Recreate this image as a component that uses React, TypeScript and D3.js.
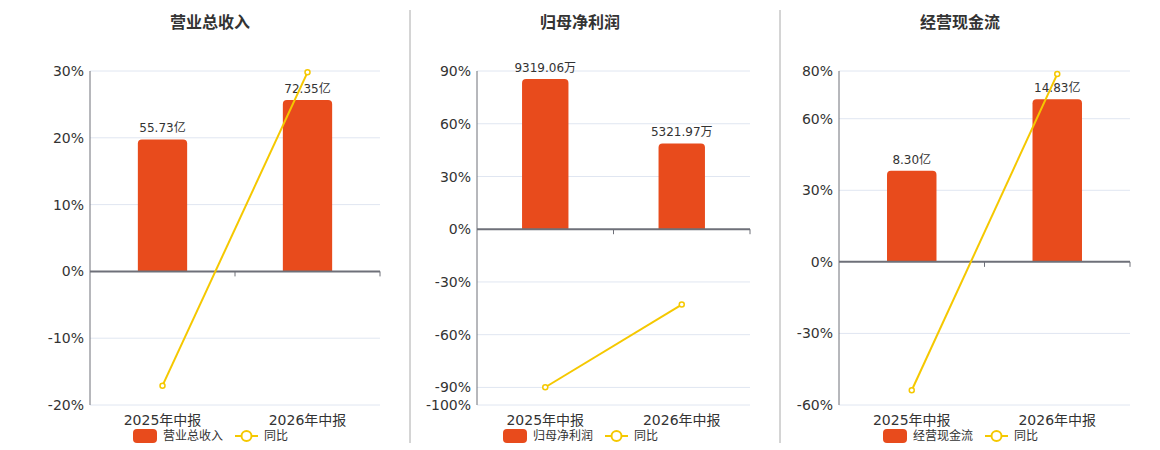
import React, { useEffect, useRef } from 'react';
import * as d3 from 'd3';

const periods = ['2025年中报', '2026年中报'];

const revenueValues = [55.73, 72.35];
const revenueLabels = ['55.73亿', '72.35亿'];
const revenueYoy = [-17.1, 29.8];
const revenueTicks = [-20, -10, 0, 10, 20, 30];

const profitValues = [9319.06, 5321.97];
const profitLabels = ['9319.06万', '5321.97万'];
const profitYoy = [-89.9, -42.9];
const profitTicks = [-100, -90, -60, -30, 0, 30, 60, 90];

const cashValues = [8.3, 14.83];
const cashLabels = ['8.30亿', '14.83亿'];
const cashYoy = [-53.8, 78.7];
const cashTicks = [-60, -30, 0, 30, 60, 80];

const BAR = '#E84B1C';
const LINE = '#F5C800';
const FONT = '"DejaVu Sans", "Noto Sans CJK SC", sans-serif';

interface Panel {
  title: string;
  legend: string;
  values: number[];
  labels: string[];
  yoy: number[];
  ticks: number[];
  barMax: number;
  x0: number;
  x1: number;
  center: number;
}

const panels: Panel[] = [
  { title: '营业总收入', legend: '营业总收入', values: revenueValues, labels: revenueLabels, yoy: revenueYoy, ticks: revenueTicks, barMax: 84.6, x0: 90, x1: 380, center: 210 },
  { title: '归母净利润', legend: '归母净利润', values: profitValues, labels: profitLabels, yoy: profitYoy, ticks: profitTicks, barMax: 9816, x0: 477, x1: 750, center: 580 },
  { title: '经营现金流', legend: '经营现金流', values: cashValues, labels: cashLabels, yoy: cashYoy, ticks: cashTicks, barMax: 17.4, x0: 839, x1: 1130, center: 960 },
];

const TOP = 71;
const BOTTOM = 405;

// bar path with rounded top corners
function barPath(x: number, y: number, w: number, h: number, r: number) {
  const rr = Math.min(r, h, w / 2);
  return `M${x},${y + h}V${y + rr}Q${x},${y} ${x + rr},${y}H${x + w - rr}Q${x + w},${y} ${x + w},${y + rr}V${y + h}Z`;
}

const App: React.FC = () => {
  const ref = useRef<SVGSVGElement>(null);

  useEffect(() => {
    document.body.style.margin = '0';
    if (!ref.current) return;
    const svg = d3.select(ref.current);
    svg.selectAll('*').remove();
    svg.style('font-family', FONT);

    // separators
    [410, 780].forEach(x => {
      svg.append('line').attr('x1', x).attr('x2', x).attr('y1', 10).attr('y2', 443)
        .attr('stroke', '#aaa').attr('stroke-width', 1);
    });

    panels.forEach(p => {
      const g = svg.append('g');
      const min = d3.min(p.ticks) as number;
      const max = d3.max(p.ticks) as number;
      const y = d3.scaleLinear().domain([min, max]).range([BOTTOM, TOP]);
      const x = d3.scaleBand().domain(periods).range([p.x0, p.x1]);
      const zeroY = y(0);
      const yBar = d3.scaleLinear().domain([0, p.barMax]).range([zeroY, TOP]);

      g.append('text').attr('x', p.center).attr('y', 28).attr('text-anchor', 'middle')
        .attr('font-size', 16).attr('font-weight', 'bold').attr('fill', '#333').text(p.title);

      // grid + y labels
      p.ticks.forEach(t => {
        if (t !== 0) {
          g.append('line').attr('x1', p.x0).attr('x2', p.x1).attr('y1', y(t)).attr('y2', y(t))
            .attr('stroke', '#E0E6F1').attr('stroke-width', 1);
        }
        g.append('text').attr('x', p.x0 - 6).attr('y', y(t)).attr('dy', '0.36em')
          .attr('text-anchor', 'end').attr('font-size', 14).attr('fill', '#333').text(`${t}%`);
      });

      g.append('line').attr('x1', p.x0).attr('x2', p.x0).attr('y1', TOP).attr('y2', BOTTOM)
        .attr('stroke', '#6E7079').attr('stroke-width', 1);

      // bars
      const bw = x.bandwidth() * 0.34;
      periods.forEach((c, i) => {
        const cx = (x(c) as number) + x.bandwidth() / 2;
        const top = yBar(p.values[i]);
        g.append('path').attr('d', barPath(cx - bw / 2, top, bw, zeroY - top, 4)).attr('fill', BAR);
        g.append('text').attr('x', cx).attr('y', top - 7).attr('text-anchor', 'middle')
          .attr('font-size', 12).attr('fill', '#333').text(p.labels[i]);
        g.append('text').attr('x', cx).attr('y', 425).attr('text-anchor', 'middle')
          .attr('font-size', 14).attr('fill', '#333').text(c);
      });

      // zero axis
      g.append('line').attr('x1', p.x0).attr('x2', p.x1).attr('y1', zeroY).attr('y2', zeroY)
        .attr('stroke', '#6E7079').attr('stroke-width', 2);
      [p.x0 + x.bandwidth(), p.x1].forEach(tx => {
        g.append('line').attr('x1', tx).attr('x2', tx).attr('y1', zeroY).attr('y2', zeroY + 5)
          .attr('stroke', '#6E7079').attr('stroke-width', 1);
      });

      // yoy line
      const pts: [number, number][] = periods.map((c, i) => [(x(c) as number) + x.bandwidth() / 2, y(p.yoy[i])]);
      g.append('path').attr('d', d3.line()(pts) as string).attr('fill', 'none')
        .attr('stroke', LINE).attr('stroke-width', 2);
      pts.forEach(([px, py]) => {
        g.append('circle').attr('cx', px).attr('cy', py).attr('r', 2.5)
          .attr('fill', '#fff').attr('stroke', LINE).attr('stroke-width', 1.5);
      });

      // legend
      const lx = p.center - 77;
      const ly = 436;
      g.append('rect').attr('x', lx).attr('y', ly - 7).attr('width', 24).attr('height', 14).attr('rx', 4)
        .attr('fill', BAR);
      g.append('text').attr('x', lx + 30).attr('y', ly).attr('dy', '0.36em').attr('font-size', 12)
        .attr('fill', '#333').text(p.legend);
      const l2 = lx + 102;
      g.append('line').attr('x1', l2).attr('x2', l2 + 23).attr('y1', ly).attr('y2', ly)
        .attr('stroke', LINE).attr('stroke-width', 2);
      g.append('circle').attr('cx', l2 + 11.5).attr('cy', ly).attr('r', 5)
        .attr('fill', '#fff').attr('stroke', LINE).attr('stroke-width', 2);
      g.append('text').attr('x', l2 + 29).attr('y', ly).attr('dy', '0.36em').attr('font-size', 12)
        .attr('fill', '#333').text('同比');
    });
  }, []);

  return <svg ref={ref} width={1160} height={450} style={{ display: 'block' }} />;
};

export default App;
